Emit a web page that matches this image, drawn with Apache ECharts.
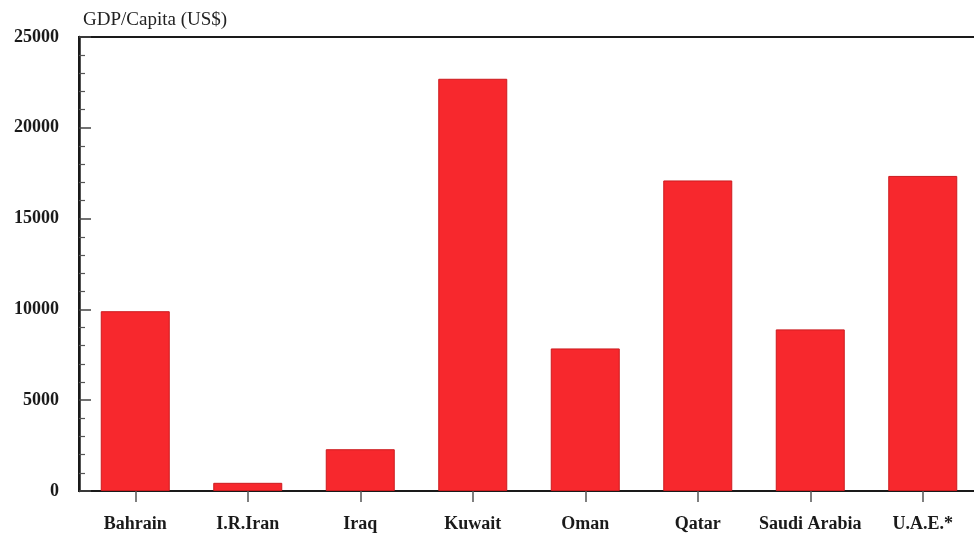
<!DOCTYPE html>
<html>
<head>
<meta charset="utf-8">
<script src="https://cdn.jsdelivr.net/npm/echarts@6/dist/echarts.min.js"></script>
<style>
  html, body { margin: 0; padding: 0; background: #fff; }
  #chart { width: 974px; height: 535px; }
</style>
</head>
<body>
<div id="chart"></div>
<script>
// GDP per capita of the Gulf states (US$)
const countries = ['Bahrain', 'I.R.Iran', 'Iraq', 'Kuwait', 'Oman', 'Qatar', 'Saudi Arabia', 'U.A.E.*'];
const gdpPerCapita = [9900, 450, 2300, 22700, 7850, 17100, 8900, 17350];
const yTicks = [0, 5000, 10000, 15000, 20000, 25000];

const serif = '"Liberation Serif", "DejaVu Serif", serif';

const chart = echarts.init(document.getElementById('chart'));
chart.setOption({
  animation: false,
  backgroundColor: '#ffffff',
  title: {
    text: 'GDP/Capita (US$)',
    left: 78,
    top: 6,
    textStyle: { fontFamily: serif, fontSize: 19, fontWeight: 'normal', color: '#222' }
  },
  grid: {
    left: 79,
    top: 37,
    width: 900,
    height: 454,
    outerBoundsMode: 'none',
    containLabel: false,
    show: true,
    borderColor: '#1a1a1a',
    borderWidth: 2,
    backgroundColor: 'transparent'
  },
  xAxis: {
    type: 'category',
    data: countries,
    axisLine: { lineStyle: { color: '#1a1a1a', width: 2 } },
    axisTick: { show: true, alignWithLabel: true, length: 11, inside: false, lineStyle: { color: '#555', width: 1.5 } },
    axisLabel: {
      margin: 24,
      fontFamily: serif,
      fontSize: 18,
      fontWeight: 'bold',
      color: '#1a1a1a',
      interval: 0
    }
  },
  yAxis: {
    type: 'value',
    min: yTicks[0],
    max: yTicks[yTicks.length - 1],
    interval: 5000,
    splitLine: { show: false },
    axisLine: { show: true, lineStyle: { color: '#1a1a1a', width: 2.5 } },
    axisTick: { show: true, inside: true, length: 12, lineStyle: { color: '#444', width: 1.5 } },
    minorTick: { show: true, splitNumber: 5, length: 6, lineStyle: { color: '#555', width: 1.2 } },
    axisLabel: {
      margin: 20,
      fontFamily: serif,
      fontSize: 18,
      fontWeight: 'bold',
      color: '#1a1a1a',
      formatter: (v) => String(v)
    }
  },
  series: [{
    type: 'bar',
    data: gdpPerCapita,
    barWidth: 69,
    itemStyle: {
      color: '#f7282d',
      borderColor: '#cc1b1f',
      borderWidth: 1
    }
  }]
});
</script>
</body>
</html>
